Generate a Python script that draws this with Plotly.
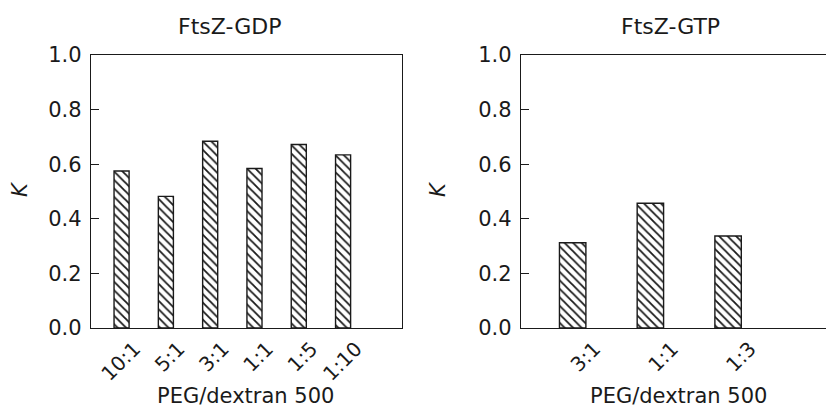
import plotly.graph_objects as go

# ---- data ----
gdp_ratios = ["10:1", "5:1", "3:1", "1:1", "1:5", "1:10"]
gdp_k = [0.575, 0.482, 0.684, 0.584, 0.672, 0.634]

gtp_ratios = ["3:1", "1:1", "1:3"]
gtp_k = [0.312, 0.457, 0.337]

y_ticks = [0.0, 0.2, 0.4, 0.6, 0.8, 1.0]
titles = ["FtsZ-GDP", "FtsZ-GTP"]
x_title = "PEG/dextran 500"
y_title = "K"

FONT = "DejaVu Sans"
INK = "#1a1a1a"
W, H = 826, 408

pattern = dict(shape="\\", fgcolor=INK, bgcolor="white", size=6, solidity=0.3)

fig = go.Figure()
fig.add_trace(go.Bar(x=gdp_ratios, y=gdp_k, width=0.34, xaxis="x", yaxis="y",
                     marker=dict(color="white", pattern=pattern,
                                 line=dict(color=INK, width=1.4)),
                     showlegend=False))
fig.add_trace(go.Bar(x=gtp_ratios, y=gtp_k, width=0.34, xaxis="x2", yaxis="y2",
                     marker=dict(color="white", pattern=pattern,
                                 line=dict(color=INK, width=1.4)),
                     showlegend=False))

ydom = [(H - 328) / H, (H - 55) / H]
common_x = dict(type="category", showline=True, linecolor=INK, linewidth=1.4,
                ticks="", showgrid=False, zeroline=False, tickangle=-45, automargin=False,
                tickfont=dict(family=FONT, size=20, color=INK))
common_y = dict(range=[0, 1], tickvals=y_ticks, ticktext=[f"{v:.1f}" for v in y_ticks],
                showline=True, linecolor=INK, linewidth=1.4, ticks="inside", automargin=False,
                ticklen=8, tickcolor=INK, tickwidth=1.2, showgrid=False, zeroline=False,
                tickfont=dict(family=FONT, size=21, color=INK), ticklabelstandoff=4)

fig.update_layout(
    template="none",
    width=W, height=H, margin=dict(l=0, r=0, t=0, b=0, autoexpand=False),
    paper_bgcolor="white", plot_bgcolor="white",
    xaxis=dict(common_x, domain=[91 / W, 402 / W], range=[-0.69, 6.33],
               mirror=True, anchor="y", ticklabelshift=13),
    yaxis=dict(common_y, domain=ydom, mirror=True, anchor="x"),
    xaxis2=dict(common_x, domain=[521 / W, 1.0], range=[-0.665, 3.26],
                mirror=True, anchor="y2", ticklabelshift=22),
    yaxis2=dict(common_y, domain=ydom, mirror=False, anchor="x2"),
)

ann = []
for txt, xc in zip(titles, [229, 670.5]):
    ann.append(dict(text=txt, x=xc / W, y=(H - 27) / H, xref="paper", yref="paper",
                    xanchor="center", yanchor="middle", showarrow=False,
                    font=dict(family=FONT, size=22, color=INK)))
for xc in [245, 678]:
    ann.append(dict(text=x_title, x=xc / W, y=(H - 396) / H, xref="paper", yref="paper",
                    xanchor="center", yanchor="middle", showarrow=False,
                    font=dict(family=FONT, size=21, color=INK)))
for xc in [20, 438]:
    ann.append(dict(text=f"<i>{y_title}</i>", x=xc / W, y=(H - 189) / H, xref="paper",
                    yref="paper", xanchor="center", yanchor="middle", showarrow=False,
                    textangle=-90, font=dict(family=FONT, size=21, color=INK)))
fig.update_layout(annotations=ann)

fig.write_html("out.html", config={"displayModeBar": False},
               post_script="document.body.style.margin='0';document.body.style.overflow='hidden';")
